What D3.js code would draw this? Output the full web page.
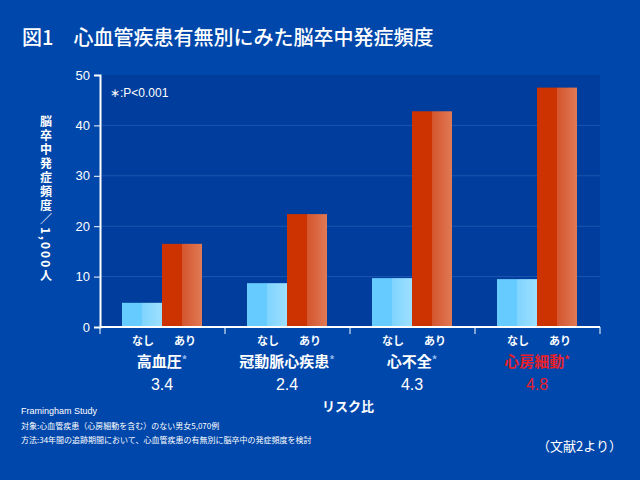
<!DOCTYPE html>
<html><head><meta charset="utf-8">
<script src="https://cdn.jsdelivr.net/npm/d3@7"></script>
<style>body{margin:0;background:#0047ab;}svg{display:block;font-family:"Noto Sans CJK JP",sans-serif;}</style>
</head><body><svg id="c" width="640" height="480"></svg>
<script>
const categories=["高血圧","冠動脈心疾患","心不全","心房細動"];
const riskRatios=["3.4","2.4","4.3","4.8"];
const noneValues=[4.8,8.7,9.7,9.5];
const withValues=[16.5,22.4,42.8,47.5];
const yTicks=[0,10,20,30,40,50];
const subLabels=["なし","あり"];

const svg=d3.select("#c");
svg.append("rect").attr("width",640).attr("height",480).attr("fill","#0047ab");
const defs=svg.append("defs");
const gb=defs.append("linearGradient").attr("id","gb");
gb.append("stop").attr("offset","0").attr("stop-color","#7fd4ff");
gb.append("stop").attr("offset","1").attr("stop-color","#9ee0ff");
const gr=defs.append("linearGradient").attr("id","gr");
gr.append("stop").attr("offset","0").attr("stop-color","#d4552e");
gr.append("stop").attr("offset","1").attr("stop-color","#e07a55");

svg.append("text").attr("x",22).attr("y",45).attr("fill","#fff").attr("font-size",20).attr("font-weight","500").text("図1　心血管疾患有無別にみた脳卒中発症頻度");

const L=100,R=600,T=75,B=327;
const x=d3.scaleBand().domain(categories).range([L,R]);
const y=d3.scaleLinear().domain([0,50]).range([B,T]);
svg.append("rect").attr("x",L).attr("y",T).attr("width",R-L).attr("height",B-T).attr("fill","#003d9c");
svg.selectAll(".grid").data(yTicks.slice(1,-1)).join("line").attr("x1",L).attr("x2",R).attr("y1",d=>y(d)).attr("y2",d=>y(d)).attr("stroke","#1d56b0").attr("stroke-width",1);

const bw=40;
function bars(vals,off,c1,grad){
  const g=svg.append("g");
  vals.forEach((v,i)=>{
    const x0=x(categories[i])+off;
    g.append("rect").attr("x",x0).attr("y",y(v)).attr("width",bw/2).attr("height",B-y(v)).attr("fill",c1);
    g.append("rect").attr("x",x0+bw/2).attr("y",y(v)).attr("width",bw/2).attr("height",B-y(v)).attr("fill",grad);
  });
}
bars(noneValues,22,"#66ccff","url(#gb)");
bars(withValues,62,"#cc3300","url(#gr)");

const ya=svg.append("g").attr("transform",`translate(${L},0)`).call(d3.axisLeft(y).tickValues(yTicks).tickSize(6).tickPadding(4));
ya.select(".domain").attr("stroke","#fff").attr("stroke-width",2);
ya.selectAll("line").attr("stroke","#fff");
ya.selectAll("text").attr("fill","#fff").attr("font-size",13).attr("font-family","Liberation Sans, Arial");

const xa=svg.append("g").attr("transform",`translate(0,${B})`);
xa.append("line").attr("x1",L).attr("x2",R).attr("stroke","#fff").attr("stroke-width",2);
xa.selectAll(".t").data(categories.map(c=>x(c)).concat([R])).join("line").attr("x1",d=>d).attr("x2",d=>d).attr("y1",0).attr("y2",7).attr("stroke","#fff");

categories.forEach((c,i)=>{
  const x0=x(c);
  const red=i===3;
  svg.append("text").attr("x",x0+43).attr("y",345).attr("text-anchor","middle").attr("fill","#fff").attr("font-size",11).attr("font-weight","bold").text(subLabels[0]);
  svg.append("text").attr("x",x0+85).attr("y",345).attr("text-anchor","middle").attr("fill","#fff").attr("font-size",11).attr("font-weight","bold").text(subLabels[1]);
  const t=svg.append("text").attr("x",x0+62).attr("y",367).attr("text-anchor","middle").attr("fill",red?"#e8202a":"#fff").attr("font-size",15).attr("font-weight","bold").text(c);
  t.append("tspan").attr("fill",red?"#e8202a":"#8fb8ee").attr("font-size",11).attr("dy",-3).text("*");
  svg.append("text").attr("x",x0+62).attr("y",390).attr("text-anchor","middle").attr("fill",red?"#e8202a":"#fff").attr("font-size",16).attr("font-family","Liberation Sans, Arial").text(riskRatios[i]);
});
svg.append("text").attr("x",348).attr("y",411).attr("text-anchor","middle").attr("fill","#fff").attr("font-size",13).attr("font-weight","bold").text("リスク比");

svg.append("text").attr("x",110).attr("y",97).attr("fill","#fff").attr("font-size",12).attr("font-family","Liberation Sans, Arial").text("∗:P<0.001");

svg.append("text").attr("transform","translate(46,115)").attr("fill","#fff").attr("font-size",12).attr("font-weight","bold").attr("letter-spacing","2").attr("writing-mode","vertical-rl").text("脳卒中発症頻度／1,000人");

svg.append("text").attr("x",21).attr("y",414).attr("fill","#fff").attr("font-size",9).attr("font-family","Liberation Sans, Arial").text("Framingham Study");
svg.append("text").attr("x",21).attr("y",429).attr("fill","#fff").attr("font-size",8).text("対象:心血管疾患（心房細動を含む）のない男女5,070例");
svg.append("text").attr("x",21).attr("y",443).attr("fill","#fff").attr("font-size",8).text("方法:34年間の追跡期間において、心血管疾患の有無別に脳卒中の発症頻度を検討");
svg.append("text").attr("x",622).attr("y",451).attr("text-anchor","end").attr("fill","#fff").attr("font-size",13).text("（文献2より）");
</script></body></html>
